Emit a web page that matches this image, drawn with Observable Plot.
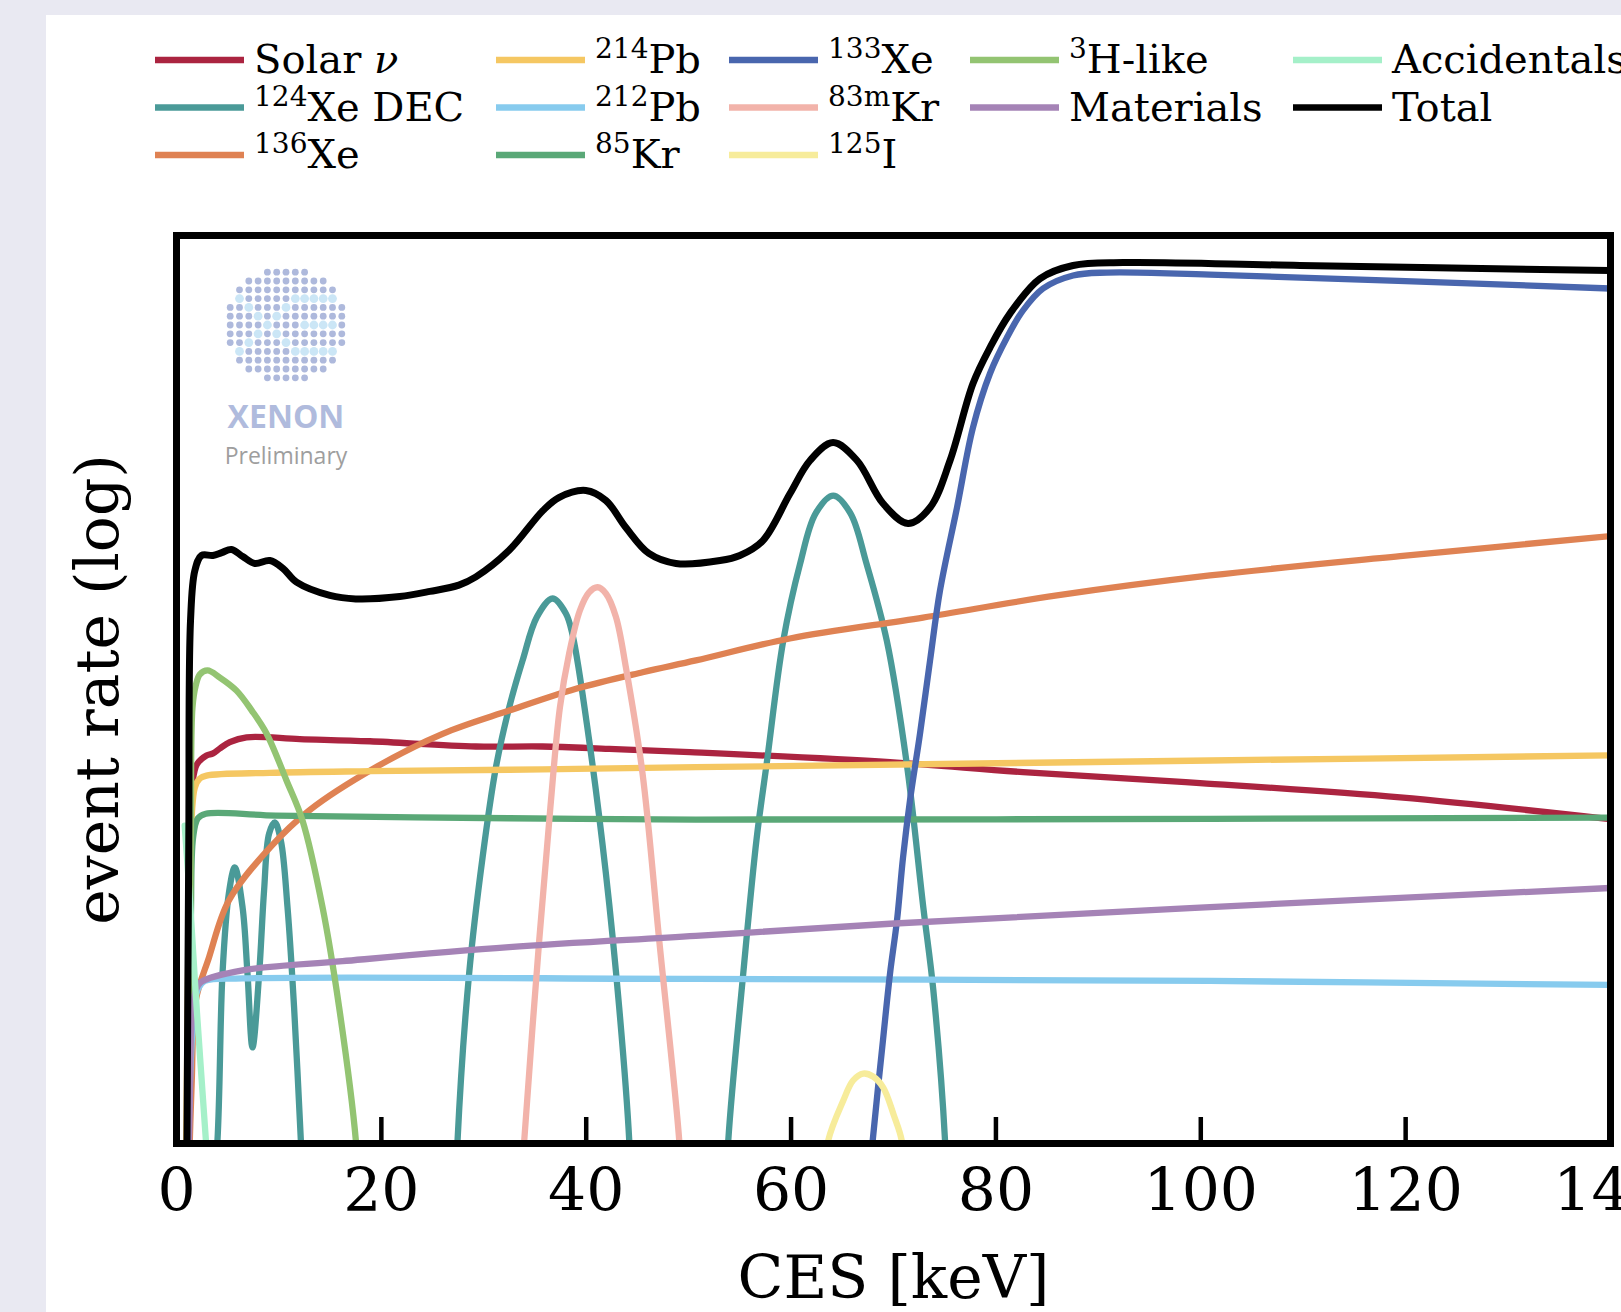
<!DOCTYPE html>
<html><head><meta charset="utf-8">
<script src="https://cdn.jsdelivr.net/npm/d3@7"></script>
<script src="https://cdn.jsdelivr.net/npm/@observablehq/plot@0.6"></script>
<style>
html,body{margin:0;padding:0;width:1621px;height:1312px;overflow:hidden;background:#e9e9f2;}
#panel{position:absolute;left:46px;top:15px;width:1575px;height:1297px;background:#fff;}
#legend{position:absolute;left:0;top:0;}
#chart{position:absolute;left:0;top:200px;}
#logo{position:absolute;left:0;top:0;pointer-events:none;}
</style></head><body>
<div id="panel"></div>
<div id="legend"></div>
<div id="chart"></div>
<div id="logo"></div>
<script>
// ---- data: [energy keV, log10(event rate) in arbitrary units] ----
const xTicks = [0, 20, 40, 60, 80, 100, 120, 140];

const solarNu = [[1.0,-0.3],[1.2,1.063],[1.35,1.724],[1.56,1.982],[1.98,2.087],[2.93,2.137],[3.57,2.148],[4.23,2.175],[5.2,2.21],[6.84,2.237],[12.04,2.227],[18.88,2.215],[29.23,2.186],[35.74,2.186],[42.25,2.173],[50.13,2.155],[69.66,2.1],[82.65,2.045],[99.93,1.985],[119.46,1.906],[140,1.786]];
const xe124 = [[3.25,-0.5],[4.0,0.017],[4.49,0.936],[5.11,1.377],[5.69,1.52],[6.45,1.3],[6.93,0.936],[7.42,0.529],[8.07,0.936],[8.55,1.393],[9.04,1.707],[9.6,1.768],[10.19,1.668],[10.84,1.3],[11.48,0.749],[12.14,0.017],[12.6,-0.5],[27.18,-0.5],[27.44,0.017],[28.57,0.936],[29.88,1.575],[31.18,2.07],[32.48,2.401],[33.79,2.66],[35.19,2.9],[36.72,3.001],[38.0,2.92],[38.67,2.8],[40.29,2.219],[41.92,1.487],[43.22,0.749],[44.2,0.017],[44.46,-0.5],[53.5,-0.5],[53.87,0.017],[55.33,0.936],[56.64,1.68],[57.62,2.093],[59.24,2.77],[60.87,3.19],[62.4,3.47],[64.12,3.568],[65.8,3.47],[67.38,3.19],[69.34,2.77],[71.29,2.093],[72.91,1.3],[73.89,0.843],[75.03,0.017],[75.3,-0.5]];
const xe136 = [[1.15,-0.3],[1.3,0.017],[1.49,0.347],[1.88,0.787],[3.18,1.026],[5.11,1.338],[9.21,1.635],[12.95,1.834],[19.46,2.072],[25.98,2.256],[32.48,2.384],[39.0,2.504],[45.51,2.595],[50.71,2.66],[59.89,2.781],[72.88,2.896],[85.96,3.018],[100.9,3.128],[119.46,3.234],[140,3.345]];
const pb214 = [[0.9,-0.3],[1.1,0.787],[1.3,1.503],[1.79,1.96],[2.28,2.01],[2.93,2.026],[9.11,2.041],[18.88,2.05],[32.48,2.058],[50.71,2.072],[100.9,2.109],[140,2.137]];
const pb212 = [[1.0,-0.3],[1.4,0.457],[1.79,0.787],[2.18,0.859],[2.76,0.895],[6.45,0.909],[50.71,0.906],[100.9,0.895],[140,0.873]];
const kr85 = [[1.0,-0.3],[1.2,0.512],[1.4,1.228],[1.62,1.685],[2.08,1.79],[2.86,1.816],[9.7,1.806],[32.48,1.791],[50.71,1.784],[100.9,1.788],[140,1.795]];
const xe133 = [[67.5,-0.3],[67.97,0.017],[68.97,0.567],[69.66,0.936],[70.34,1.228],[70.93,1.575],[71.61,1.889],[72.59,2.258],[73.57,2.66],[74.54,3.045],[76.2,3.502],[77.76,3.943],[79.42,4.24],[81.08,4.438],[82.64,4.587],[84.6,4.708],[87.53,4.78],[90.85,4.796],[100.9,4.785],[140,4.708]];
const kr83m = [[33.6,-0.3],[33.95,0.017],[35.41,1.118],[36.5,1.85],[37.43,2.40],[38.34,2.70],[39.38,2.935],[40.26,3.034],[41.11,3.063],[41.92,3.029],[42.9,2.90],[43.88,2.62],[45.5,2.037],[47.13,1.118],[49.08,0.017],[49.35,-0.3]];
const i125 = [[63.3,-0.2],[63.63,0.017],[65.1,0.237],[66.05,0.347],[67.05,0.385],[68.0,0.369],[69.0,0.308],[70.04,0.154],[70.8,0.017],[71.0,-0.2]];
const h3like = [[1.1,-0.3],[1.25,0.787],[1.4,1.668],[1.56,2.401],[1.88,2.522],[2.28,2.583],[3.03,2.605],[4.23,2.566],[5.86,2.494],[7.35,2.384],[8.79,2.258],[10.74,1.999],[12.3,1.779],[14.26,1.3],[15.88,0.749],[17.51,0.017],[17.8,-0.3]];
const materials = [[1.1,-0.3],[1.3,0.237],[1.49,0.677],[1.88,0.842],[2.37,0.888],[6.45,0.953],[16.21,1.004],[32.48,1.081],[50.71,1.143],[69.66,1.21],[100.9,1.302],[140,1.407]];
const accidentals = [[0.8,1.75],[1.3,1.35],[2.0,0.72],[2.87,0.017],[3.1,-0.2]];
const total = [[1.0,-0.2],[1.2,1.67],[1.37,2.88],[1.79,3.155],[2.44,3.238],[3.55,3.238],[4.42,3.254],[5.37,3.271],[6.47,3.232],[7.65,3.194],[9.11,3.21],[10.4,3.166],[11.72,3.091],[14.97,3.018],[17.5,2.999],[21.8,3.012],[24.74,3.04],[27.57,3.075],[29.23,3.12],[32.45,3.265],[35.77,3.485],[37.33,3.557],[39.97,3.596],[41.92,3.541],[43.87,3.392],[46.12,3.249],[48.76,3.194],[53.06,3.21],[55.0,3.238],[57.25,3.32],[59.9,3.579],[61.85,3.761],[64.1,3.86],[66.44,3.761],[68.98,3.524],[71.42,3.414],[73.57,3.502],[75.52,3.761],[77.76,4.185],[79.42,4.383],[81.38,4.571],[84.31,4.763],[87.53,4.835],[92.42,4.851],[109.7,4.835],[140,4.807]];

// legend: superscript part, main text, colour
const seriesSup   = ["", "124", "136", "214", "212", "85", "133", "83m", "125", "3", "", "", ""];
const seriesMain  = ["Solar ", "Xe DEC", "Xe", "Pb", "Pb", "Kr", "Xe", "Kr", "I", "H-like", "Materials", "Accidentals", "Total"];
const seriesColor = ["#ab2440","#4a9a98","#df8253","#f5c762","#87cbee","#5aa877","#4966ae","#f2b3aa","#f7ec9b","#93c472","#a583b6","#a5f0c9","#000000"];
const seriesData  = [solarNu, xe124, xe136, pb214, pb212, kr85, xe133, kr83m, i125, h3like, materials, accidentals, total];

// ---- chart ----
const chart = Plot.plot({
  width: 1621, height: 1112,
  marginTop: 35, marginBottom: 169, marginLeft: 176, marginRight: 11,
  x: {domain: [0, 140], axis: null},
  y: {type: "log", domain: [1, 1e5], axis: null},
  style: {background: "transparent", fontFamily: "DejaVu Serif", fontSize: "59px", color: "#000", overflow: "visible"},
  marks: [
    ...seriesData.map((data, i) => Plot.line(data, {
      x: d => d[0], y: d => 10 ** d[1],
      stroke: seriesColor[i], strokeWidth: i === 12 ? 7 : 6.3,
      curve: "catmull-rom", clip: true
    })),
    Plot.frame({stroke: "#000", strokeWidth: 7}),
    Plot.tickX(xTicks, {x: d => d, insetTop: 882, stroke: "#000", strokeWidth: 4.5}),
    Plot.axisX(xTicks, {tickSize: 0, tickPadding: 25, label: null, fontSize: 60, fill: "#000"}),
    Plot.text(["CES [keV]"], {frameAnchor: "bottom", dy: 154, fontSize: 60, fill: "#000"}),
    Plot.text(["event rate (log)"], {frameAnchor: "left", textAnchor: "middle", dx: -78, rotate: -90, fontSize: 60, fill: "#000"})
  ]
});
document.getElementById("chart").appendChild(chart);

// ---- legend ----
const colLine = [155, 496, 729, 970, 1293];
const rowY = [60, 107.5, 155];
const colCounts = [3, 3, 3, 2, 2];
const leg = d3.select("#legend").append("svg")
  .attr("width", 1621).attr("height", 200)
  .style("font-family", "DejaVu Serif").style("overflow", "visible");
let idx = 0;
colCounts.forEach((n, c) => {
  for (let r = 0; r < n; r++, idx++) {
    const g = leg.append("g");
    g.append("line").attr("x1", colLine[c]).attr("x2", colLine[c] + 89)
      .attr("y1", rowY[r]).attr("y2", rowY[r])
      .attr("stroke", seriesColor[idx]).attr("stroke-width", 6.5);
    const t = g.append("text").attr("x", colLine[c] + 99).attr("y", rowY[r] + 13)
      .attr("font-size", 40).attr("fill", "#000");
    if (seriesSup[idx]) {
      t.append("tspan").attr("font-size", 28).attr("dy", -15).text(seriesSup[idx]);
      t.append("tspan").attr("dy", 15).text(seriesMain[idx]);
    } else {
      t.append("tspan").text(seriesMain[idx]);
      if (idx === 0) t.append("tspan").attr("font-style", "italic").text("ν");
    }
  }
});

// ---- XENON watermark ----
const logo = d3.select("#logo").append("svg").attr("width", 600).attr("height", 500);
const rowCounts = [5, 9, 11, 11, 13, 13, 13, 13, 13, 11, 11, 9, 5];
const cx = 286, cy = 325, sx = 9.3, sy = 8.8;
const light = new Set(["3,1","4,2","5,3","6,4","7,3","8,2","9,1","4,6","5,5","7,5","8,6",
  "3,7","3,8","3,9","3,10","3,11","6,8","6,9","6,10","6,11","9,7","9,8","9,9","9,10","9,11"]);
rowCounts.forEach((n, j) => {
  const start = (13 - n) / 2;
  for (let k = 0; k < n; k++) {
    const i = start + k;
    const isL = light.has(j + "," + i);
    logo.append("circle").attr("cx", cx + (i - 6) * sx).attr("cy", cy + (j - 6) * sy)
      .attr("r", isL ? 4.4 : 3.4).attr("fill", isL ? "#cbe6f6" : "#aeb9dc");
  }
});
logo.append("text").attr("x", cx).attr("y", 428).attr("text-anchor", "middle")
  .attr("font-family", "Open Sans").attr("font-weight", 700).attr("font-size", 32)
  .attr("fill", "#b0bbdd").text("XENON");
logo.append("text").attr("x", cx).attr("y", 464).attr("text-anchor", "middle")
  .attr("font-family", "Open Sans").attr("font-size", 23)
  .attr("fill", "#9e9e9e").text("Preliminary");
</script>
</body></html>
